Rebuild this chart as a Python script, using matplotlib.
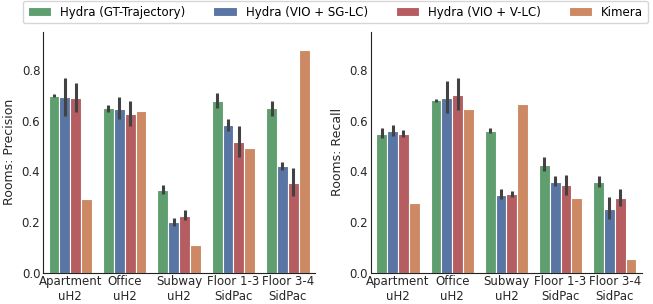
import numpy as np
import matplotlib
matplotlib.use("Agg")
import matplotlib.pyplot as plt

scenes = ["Apartment\nuH2", "Office\nuH2", "Subway\nuH2", "Floor 1-3\nSidPac", "Floor 3-4\nSidPac"]
methods = ["Hydra (GT-Trajectory)", "Hydra (VIO + SG-LC)", "Hydra (VIO + V-LC)", "Kimera"]
colors = ["#5f9e6e", "#5975a4", "#b55d60", "#cc8963"]

# precision: mean, error low, error high (Kimera has no error bar)
prec_gt = [0.699, 0.649, 0.325, 0.679, 0.649]
prec_gt_lo = [0.692, 0.635, 0.31, 0.65, 0.62]
prec_gt_hi = [0.705, 0.662, 0.345, 0.71, 0.678]
prec_sg = [0.693, 0.646, 0.199, 0.583, 0.421]
prec_sg_lo = [0.62, 0.605, 0.184, 0.56, 0.405]
prec_sg_hi = [0.77, 0.695, 0.214, 0.608, 0.437]
prec_v = [0.69, 0.626, 0.225, 0.517, 0.354]
prec_v_lo = [0.635, 0.578, 0.208, 0.458, 0.303]
prec_v_hi = [0.75, 0.678, 0.246, 0.579, 0.412]
prec_kim = [0.29, 0.638, 0.109, 0.492, 0.879]

# recall
rec_gt = [0.547, 0.68, 0.559, 0.425, 0.358]
rec_gt_lo = [0.532, 0.674, 0.551, 0.4, 0.34]
rec_gt_hi = [0.57, 0.687, 0.569, 0.455, 0.381]
rec_sg = [0.559, 0.691, 0.308, 0.358, 0.251]
rec_sg_lo = [0.54, 0.632, 0.29, 0.342, 0.213]
rec_sg_hi = [0.584, 0.755, 0.33, 0.383, 0.297]
rec_v = [0.549, 0.701, 0.309, 0.346, 0.295]
rec_v_lo = [0.536, 0.641, 0.298, 0.305, 0.264]
rec_v_hi = [0.563, 0.767, 0.323, 0.387, 0.329]
rec_kim = [0.276, 0.645, 0.666, 0.293, 0.054]

prec = [(prec_gt, prec_gt_lo, prec_gt_hi), (prec_sg, prec_sg_lo, prec_sg_hi),
        (prec_v, prec_v_lo, prec_v_hi), (prec_kim, None, None)]
rec = [(rec_gt, rec_gt_lo, rec_gt_hi), (rec_sg, rec_sg_lo, rec_sg_hi),
       (rec_v, rec_v_lo, rec_v_hi), (rec_kim, None, None)]

plt.rcParams["font.family"] = "DejaVu Sans"
plt.rcParams["font.size"] = 8.5
txt = "#262626"

fig = plt.figure(figsize=(6.53, 3.04), dpi=100)
ax1 = fig.add_axes([0.066, 0.103, 0.4165, 0.792])
ax2 = fig.add_axes([0.568, 0.103, 0.415, 0.792])

x = np.arange(len(scenes))
w = 0.2
for ax, data, ylabel in [(ax1, prec, "Rooms: Precision"), (ax2, rec, "Rooms: Recall")]:
    for i, (vals, lo, hi) in enumerate(data):
        pos = x - 0.3 + i * w
        ax.bar(pos, vals, w, color=colors[i], edgecolor="white", linewidth=0.8,
               label=methods[i])
        if lo is not None:
            ax.vlines(pos, lo, hi, color="#424242", linewidth=2.2)
    ax.set_ylim(0, 0.95)
    ax.set_xlim(-0.5, 4.5)
    ax.set_yticks([0.0, 0.2, 0.4, 0.6, 0.8])
    ax.set_xticks(x)
    ax.set_xticklabels(scenes, color=txt)
    ax.tick_params(length=0, pad=2, labelcolor=txt)
    ax.set_ylabel(ylabel, color=txt, labelpad=4, fontsize=9)
    ax.spines["top"].set_visible(False)
    ax.spines["right"].set_visible(False)
    ax.spines["left"].set_color("#222222")
    ax.spines["bottom"].set_color("#222222")

handles, labels = ax1.get_legend_handles_labels()
fig.legend(handles, labels, loc="upper left", ncol=4, bbox_to_anchor=(23 / 653, 1.0 - 1 / 304),
           borderaxespad=0, frameon=True, fontsize=8.5, handlelength=2.0,
           handletextpad=0.75, columnspacing=2.35, borderpad=0.4, edgecolor="#cccccc")

fig.savefig("out.png", dpi=100)
